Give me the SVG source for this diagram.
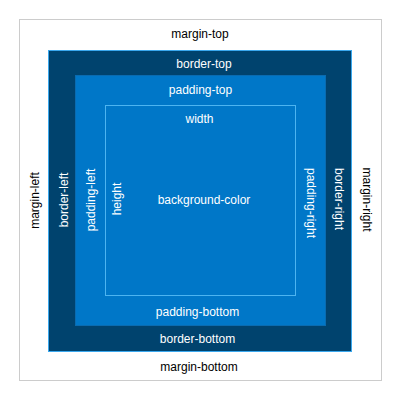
<svg xmlns="http://www.w3.org/2000/svg" width="400" height="400" viewBox="0 0 400 400">
<style>
text{font-family:"Liberation Sans",Arial,sans-serif;font-size:12px;text-anchor:middle;dominant-baseline:central}
.d{fill:#000}
.l{fill:#fff}
</style>
<rect width="400" height="400" fill="#fff"/>
<g id="margin">
<rect x="19.5" y="19.5" width="362" height="361" fill="#fff" stroke="#cccccc"/>
<text class="d" x="200" y="33.5">margin-top</text>
<text class="d" x="199" y="367">margin-bottom</text>
<text class="d" transform="translate(34.5,200.5) rotate(-90)">margin-left</text>
<text class="d" transform="translate(367,199.5) rotate(90)">margin-right</text>
</g>
<g id="border">
<rect x="48.5" y="50.5" width="303" height="301" fill="#00436e" stroke="#3aa8ee"/>
<text class="l" x="204" y="63.5">border-top</text>
<text class="l" x="197.5" y="339">border-bottom</text>
<text class="l" transform="translate(63.5,200) rotate(-90)">border-left</text>
<text class="l" transform="translate(338.5,199) rotate(90)">border-right</text>
</g>
<g id="padding">
<rect x="75.5" y="75.5" width="250" height="250" fill="#0077c8" stroke="#0a6bb0"/>
<text class="l" x="200.5" y="90">padding-top</text>
<text class="l" x="197.5" y="312">padding-bottom</text>
<text class="l" transform="translate(90.5,200) rotate(-90)">padding-left</text>
<text class="l" transform="translate(311,203) rotate(90)">padding-right</text>
</g>
<g id="content">
<rect x="105.5" y="105.5" width="190" height="190" fill="#0077c8" stroke="#4db4f0"/>
<text class="l" x="199.5" y="119">width</text>
<text class="l" transform="translate(117,199) rotate(-90)">height</text>
<text class="l" x="204" y="200">background-color</text>
</g>
</svg>
